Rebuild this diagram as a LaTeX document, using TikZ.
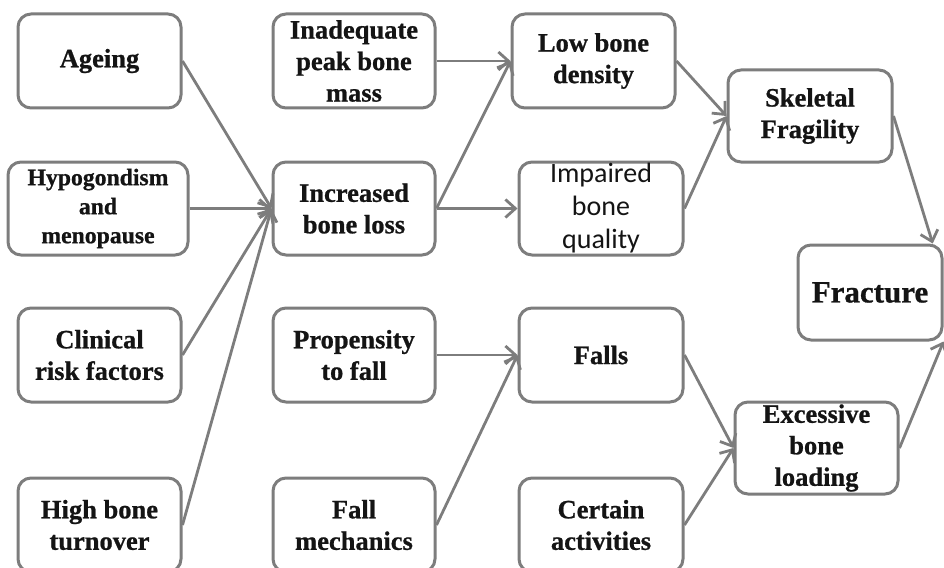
\documentclass[tikz,border=0pt]{standalone}
\usepackage{fontspec}
\setmainfont{Liberation Serif}[BoldFeatures={FakeBold=0.8}]
\newfontfamily\calibfont{Carlito}
\usepackage{xcolor}
\usetikzlibrary{arrows.meta}
\definecolor{boxgray}{RGB}{125,125,125}
\definecolor{txtdark}{RGB}{20,20,20}
\tikzset{
  factor/.style={draw=boxgray, line width=3pt, rounded corners=13pt,
    minimum width=163pt, minimum height=94pt, inner sep=0pt, align=center,
    text=txtdark, font=\bfseries\fontsize{26.5}{31.5}\selectfont},
  link/.style={draw=boxgray, line width=2.8pt,
    -{Straight Barb[length=10pt,width=18pt]}},
}

\begin{document}
\begin{tikzpicture}[x=1pt,y=-1pt]
  \useasboundingbox (0,0) rectangle (944,567);
  \node[factor] (ageing) at (99.5,61) {Ageing};
  \node[factor, minimum width=180pt, minimum height=93pt, font=\bfseries\fontsize{23.7}{29}\selectfont] (hypo) at (98,208.5) {Hypogondism\\and\\menopause};
  \node[factor] (clinical) at (99.5,355) {Clinical\\risk factors};
  \node[factor] (turnover) at (99.5,525) {High bone\\turnover};
  \node[factor, minimum width=162pt] (peak) at (354,61) {Inadequate\\peak bone\\mass};
  \node[factor, minimum width=162pt, minimum height=93pt] (loss) at (354,208.5) {Increased\\bone loss};
  \node[factor, minimum width=162pt] (propensity) at (354,355) {Propensity\\to fall};
  \node[factor, minimum width=162pt] (mechanics) at (354,525) {Fall\\mechanics};
  \node[factor] (density) at (593.5,61) {Low bone\\density};
  \node[factor, minimum width=164pt, minimum height=93pt, font=\calibfont\fontsize{28}{33}\selectfont] (quality) at (601,208.5) {Impaired\\bone\\quality};
  \node[factor, minimum width=164pt] (falls) at (601,355) {Falls};
  \node[factor, minimum width=164pt] (activities) at (601,525) {Certain\\activities};
  \node[factor, minimum width=164pt, minimum height=92pt] (fragility) at (810,116) {Skeletal\\Fragility};
  \node[factor, minimum height=92pt] (loading) at (816.5,448) {Excessive\\bone\\loading};
  \node[factor, minimum width=144pt, minimum height=95pt, font=\bfseries\fontsize{31}{36}\selectfont] (fracture) at (870,292.5) {Fracture};

  \foreach \a/\b in {ageing/loss, hypo/loss, clinical/loss, turnover/loss,
                     peak/density, loss/density, loss/quality,
                     density/fragility, quality/fragility,
                     propensity/falls, mechanics/falls,
                     falls/loading, activities/loading}
    \draw[link] (\a.east) -- (\b.west);
  \draw[link] (fragility.east) -- (fracture.38);
  \draw[link] (loading.east) -- (fracture.south east);
\end{tikzpicture}
\end{document}
